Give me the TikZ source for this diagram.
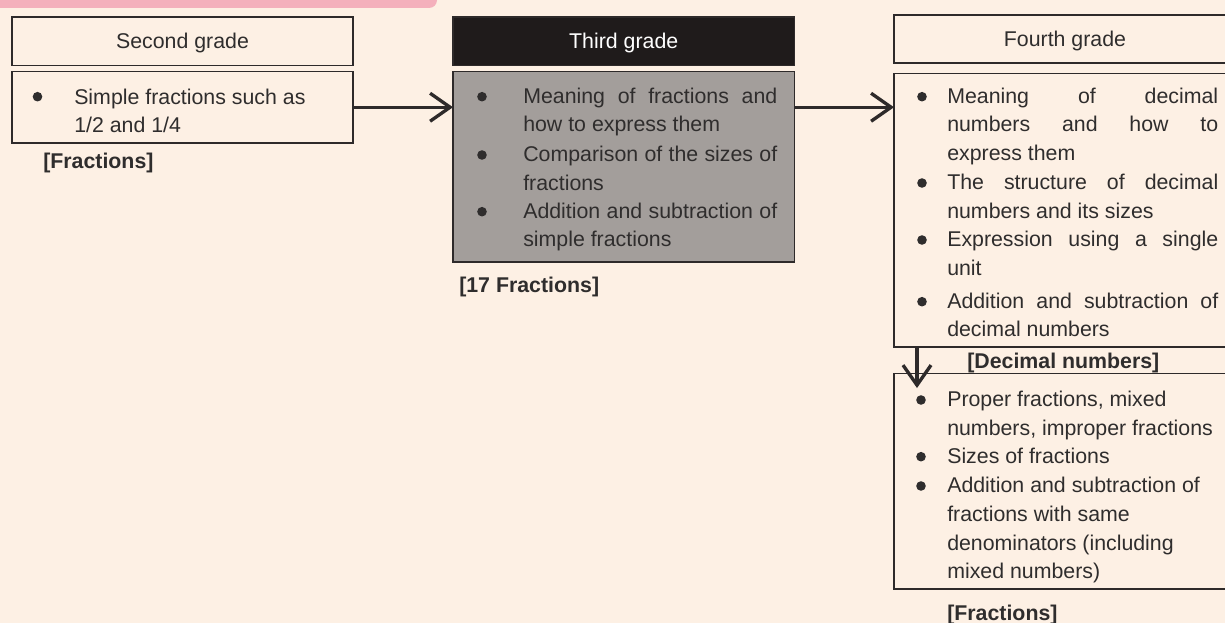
\documentclass[tikz,border=0pt]{standalone}
\usepackage{fontspec}
\setmainfont{Liberation Sans}
\usetikzlibrary{arrows.meta}

\definecolor{paper}{HTML}{FDF0E4}
\definecolor{banner}{HTML}{F4B0BC}
\definecolor{edge}{HTML}{2E2A2A}
\definecolor{ink}{HTML}{2F2D2D}
\definecolor{headdark}{HTML}{1F1B1B}
\definecolor{graybody}{HTML}{A39E9B}

\newcommand\itemfont{\fontsize{16}{21.6}\selectfont}
% justified lines for the third- and fourth-grade columns
\newcommand\jthird[1]{\makebox[190.5pt][s]{#1}}
\newcommand\jfour[1]{\makebox[203.25pt][s]{#1}}

\begin{document}
\begin{tikzpicture}[x=0.75pt,y=-0.75pt,
  pbox/.style n args={2}{minimum width={#1*0.75pt}, minimum height={#2*0.75pt}},
  gradehead/.style={draw=edge, line width=1.4pt, anchor=north west, inner sep=0pt,
    outer sep=0pt, font=\itemfont, text=ink, text depth=0pt},
  gradebody/.style={draw=edge, line width=1.4pt, anchor=north west, inner sep=0pt,
    outer sep=0pt},
  % item texts are placed by the baseline of their last line
  item/.style={anchor=base west, inner sep=0pt, align=left, font=\itemfont, text=ink},
  unitlabel/.style={anchor=base west, inner sep=0pt, font=\itemfont\bfseries, text=ink},
  flow/.style={draw=edge, line width=2.5pt, -{Straight Barb[length=15pt,width=21pt]}},
  dot/.style={fill=ink}]

\useasboundingbox (0,0) rectangle (1225,623);
\clip (0,0) rectangle (1225,623);
\fill[paper] (0,0) rectangle (1225,623);
\fill[banner, rounded corners=6pt] (-20,-20) rectangle (437,8);

% Second grade
\node[gradehead, pbox={341}{48.5}] (sgH) at (12,17) {Second grade};
\node[gradebody, pbox={341}{71.5}] (sgB) at (12,71.5) {};
\fill[dot] (37.5,96.7) circle[radius=3.6pt];
\node[item] (sg1) at (74,133) {Simple fractions such as\\1/2 and 1/4};
\node[unitlabel] (sgL) at (43,169) {[Fractions]};

% Third grade
\node[gradehead, pbox={341.5}{48.5}, fill=headdark, text=white] (tgH) at (453,17) {Third grade};
\node[gradebody, pbox={341.5}{190.5}, fill=graybody] (tgB) at (453,71.5) {};
\fill[dot] (482,96.7) circle[radius=3.6pt];
\fill[dot] (482,155) circle[radius=3.6pt];
\fill[dot] (482,211.7) circle[radius=3.6pt];
\node[item] (tg1) at (523,132) {\jthird{Meaning of fractions and}\\how to express them};
\node[item] (tg2) at (523,190.3) {\jthird{Comparison of the sizes of}\\fractions};
\node[item] (tg3) at (523,247) {\jthird{Addition and subtraction of}\\simple fractions};
\node[unitlabel] (tgL) at (459,292.5) {[17 Fractions]};

% Fourth grade
\node[gradehead, pbox={342}{48}] (fgH) at (894,15) {Fourth grade};
\node[gradebody, pbox={342}{273.5}] (fgA) at (894,73.5) {};
\node[gradebody, pbox={342}{215.5}] (fgB) at (894,373.5) {};
\fill[dot] (922,96.7) circle[radius=3.6pt];
\fill[dot] (922,183) circle[radius=3.6pt];
\fill[dot] (922,240) circle[radius=3.6pt];
\fill[dot] (922,301.7) circle[radius=3.6pt];
\node[item] (fa1) at (947,160.8) {\jfour{Meaning of decimal}\\\jfour{numbers and how to}\\express them};
\node[item] (fa2) at (947,218.3) {\jfour{The structure of decimal}\\numbers and its sizes};
\node[item] (fa3) at (947,275.3) {\jfour{Expression using a single}\\unit};
\node[item] (fa4) at (947,337) {\jfour{Addition and subtraction of}\\decimal numbers};
\node[unitlabel] (faL) at (967,369) {[Decimal numbers]};
\fill[dot] (921,400) circle[radius=3.6pt];
\fill[dot] (921,456.7) circle[radius=3.6pt];
\fill[dot] (921,486) circle[radius=3.6pt];
\node[item] (fb1) at (947,435.3) {Proper fractions, mixed\\numbers, improper fractions};
\node[item] (fb2) at (947,463.2) {Sizes of fractions};
\node[item] (fb3) at (947,578.9) {Addition and subtraction of\\fractions with same\\denominators (including\\mixed numbers)};
\node[unitlabel] (fbL) at (947,620) {[Fractions]};

% Connectors
\draw[flow] (sgB.east) -- (sgB.east -| tgB.west);
\draw[flow] (tgB.east |- sgB.east) -- (sgB.east -| fgA.west);
\draw[flow] ([xshift=17.25pt]fgA.south west) -- ([xshift=17.25pt,yshift=-10.9pt]fgB.north west);
\end{tikzpicture}
\end{document}
